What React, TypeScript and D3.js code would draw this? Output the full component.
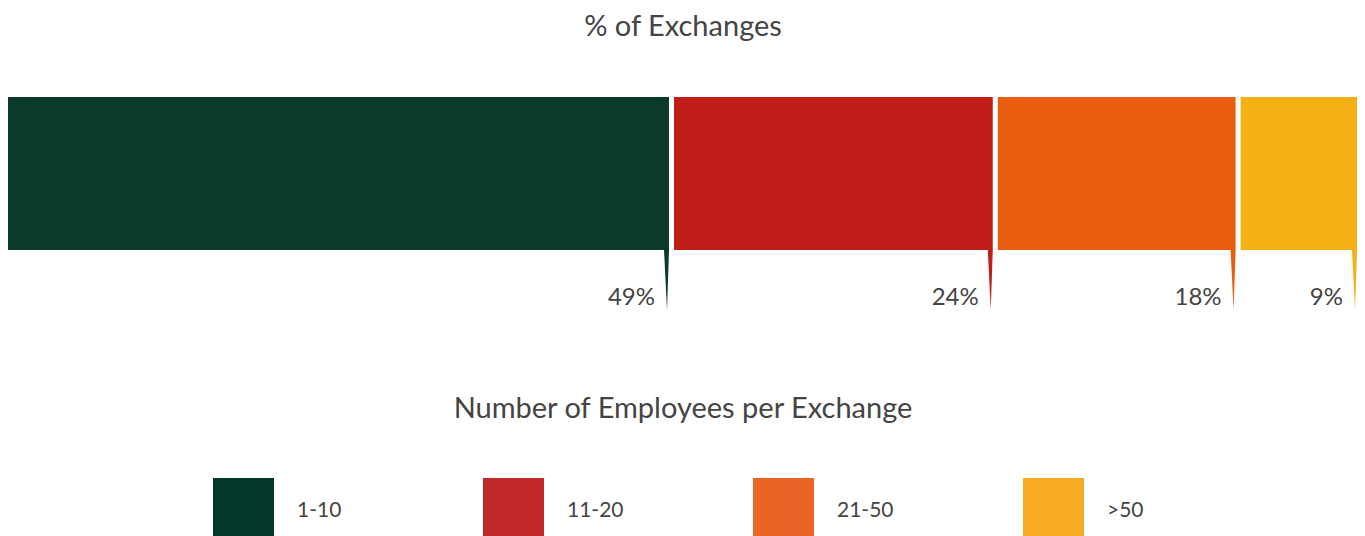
import React from "react";
import * as d3 from "d3";

const categories = ["1-10", "11-20", "21-50", ">50"];
const values = [49, 24, 18, 9];
const labels = ["49%", "24%", "18%", "9%"];
const barColors = ["#0b3a2a", "#c11e1a", "#e85d0f", "#f5b015"];
const legendColors = ["#03372a", "#c0282a", "#ea6524", "#f7ab25"];
const title = "% of Exchanges";
const axisTitle = "Number of Employees per Exchange";

export default function App() {
  const W = 1365;
  const H = 536;
  const x = d3.scaleLinear().domain([0, d3.sum(values)]).range([8, 1357]);
  const cum = d3.cumsum(values);
  const starts = [0, ...Array.from(cum).slice(0, -1)];
  const barTop = 97;
  const barBottom = 250;
  const tipY = 310;
  const font = "Lato, 'Open Sans', sans-serif";
  const legendX = d3.scaleLinear().domain([0, 1]).range([213, 483]);

  return (
    <svg
      width={W}
      height={H}
      style={{ position: "absolute", left: 0, top: 0, display: "block" }}
      fontFamily={font}
    >
      <rect width={W} height={H} fill="#fff" />
      <text x={683} y={36} textAnchor="middle" fontSize={29} fill="#444">
        {title}
      </text>
      {values.map((v, i) => {
        const x0 = x(starts[i]) + (i > 0 ? 5 : 0);
        const x1 = x(cum[i]);
        return (
          <g key={categories[i]}>
            <rect x={x0} y={barTop} width={x1 - x0} height={barBottom - barTop} fill={barColors[i]} />
            <path
              d={`M${x1 - 5},${barBottom} L${x1},${barBottom} L${x1 - 2},${tipY} Z`}
              fill={barColors[i]}
            />
            <text x={x1 - 14} y={305} textAnchor="end" fontSize={24} fill="#444">
              {labels[i]}
            </text>
          </g>
        );
      })}
      <text x={683} y={418} textAnchor="middle" fontSize={29} fill="#444">
        {axisTitle}
      </text>
      {categories.map((c, i) => (
        <g key={c}>
          <rect x={legendX(i)} y={478} width={61} height={58} fill={legendColors[i]} />
          <text x={legendX(i) + 84} y={517} fontSize={21} fill="#444">
            {c}
          </text>
        </g>
      ))}
    </svg>
  );
}
